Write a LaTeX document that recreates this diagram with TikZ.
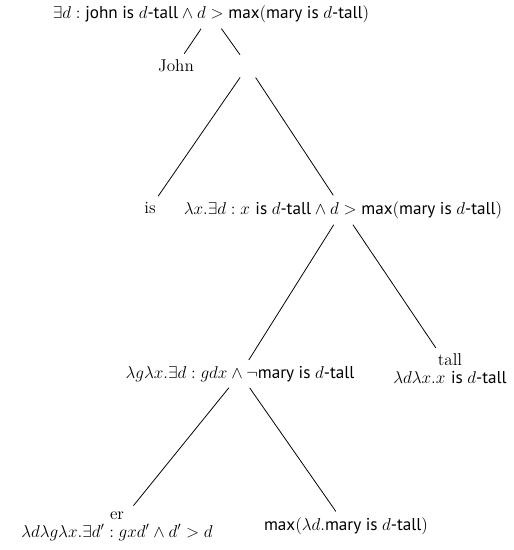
\documentclass[tikz,border=0pt]{standalone}
\usepackage{amsmath}
\usepackage{amssymb}
\usepackage{fontspec}
\setsansfont{PT Sans}
\tikzset{edge/.style = {black, line width=0.55pt, shorten <=2.5pt, shorten >=2.5pt}}
\tikzset{lex/.style = {align=center, inner sep=2pt, font=\fontsize{12}{12.5}\selectfont}}
\newcommand{\sfw}[1]{\textsf{#1}}

\begin{document}
\begin{tikzpicture}[x=0.7pt,y=-0.7pt]
    \useasboundingbox (0,0) rectangle (514,550);

    % nodes of the tree
    \node[lex] (top) at (211,14) {$\exists d : \sfw{john is }d\sfw{-tall} \wedge d > \sfw{max}(\sfw{mary is }d\sfw{-tall})$};
    \node[lex] (john) at (176,66) {John};
    \node[circle, inner sep=0pt, minimum size=14pt] (vp) at (248,66) {};
    \node[lex] (is) at (150,208) {is};
    \node[lex] (ap) at (343,210) {$\lambda x.\exists d : x\ \sfw{is }d\sfw{-tall} \wedge d > \sfw{max}(\sfw{mary is }d\sfw{-tall})$};
    \node[lex] (deg) at (240,374) {$\lambda g\lambda x.\exists d : gdx \wedge \neg\sfw{mary is }d\sfw{-tall}$};
    \node[lex] (tall) at (450,369) {tall\\$\lambda d\lambda x.x\ \sfw{is }d\sfw{-tall}$};
    \node[lex] (er) at (117,526) {er\\$\lambda d\lambda g\lambda x.\exists d' : gxd' \wedge d' > d$};
    \node[lex] (max) at (346,526) {$\sfw{max}(\lambda d.\sfw{mary is }d\sfw{-tall})$};

    % branches
    \draw[edge] (top) -- (john);
    \draw[edge] (top) -- (vp);
    \draw[edge] (vp) -- (is);
    \draw[edge] (vp) -- (ap);
    \draw[edge] (ap) -- (deg);
    \draw[edge] (ap) -- (tall);
    \draw[edge] (deg) -- (er);
    \draw[edge] (deg) -- (max);
\end{tikzpicture}
\end{document}
